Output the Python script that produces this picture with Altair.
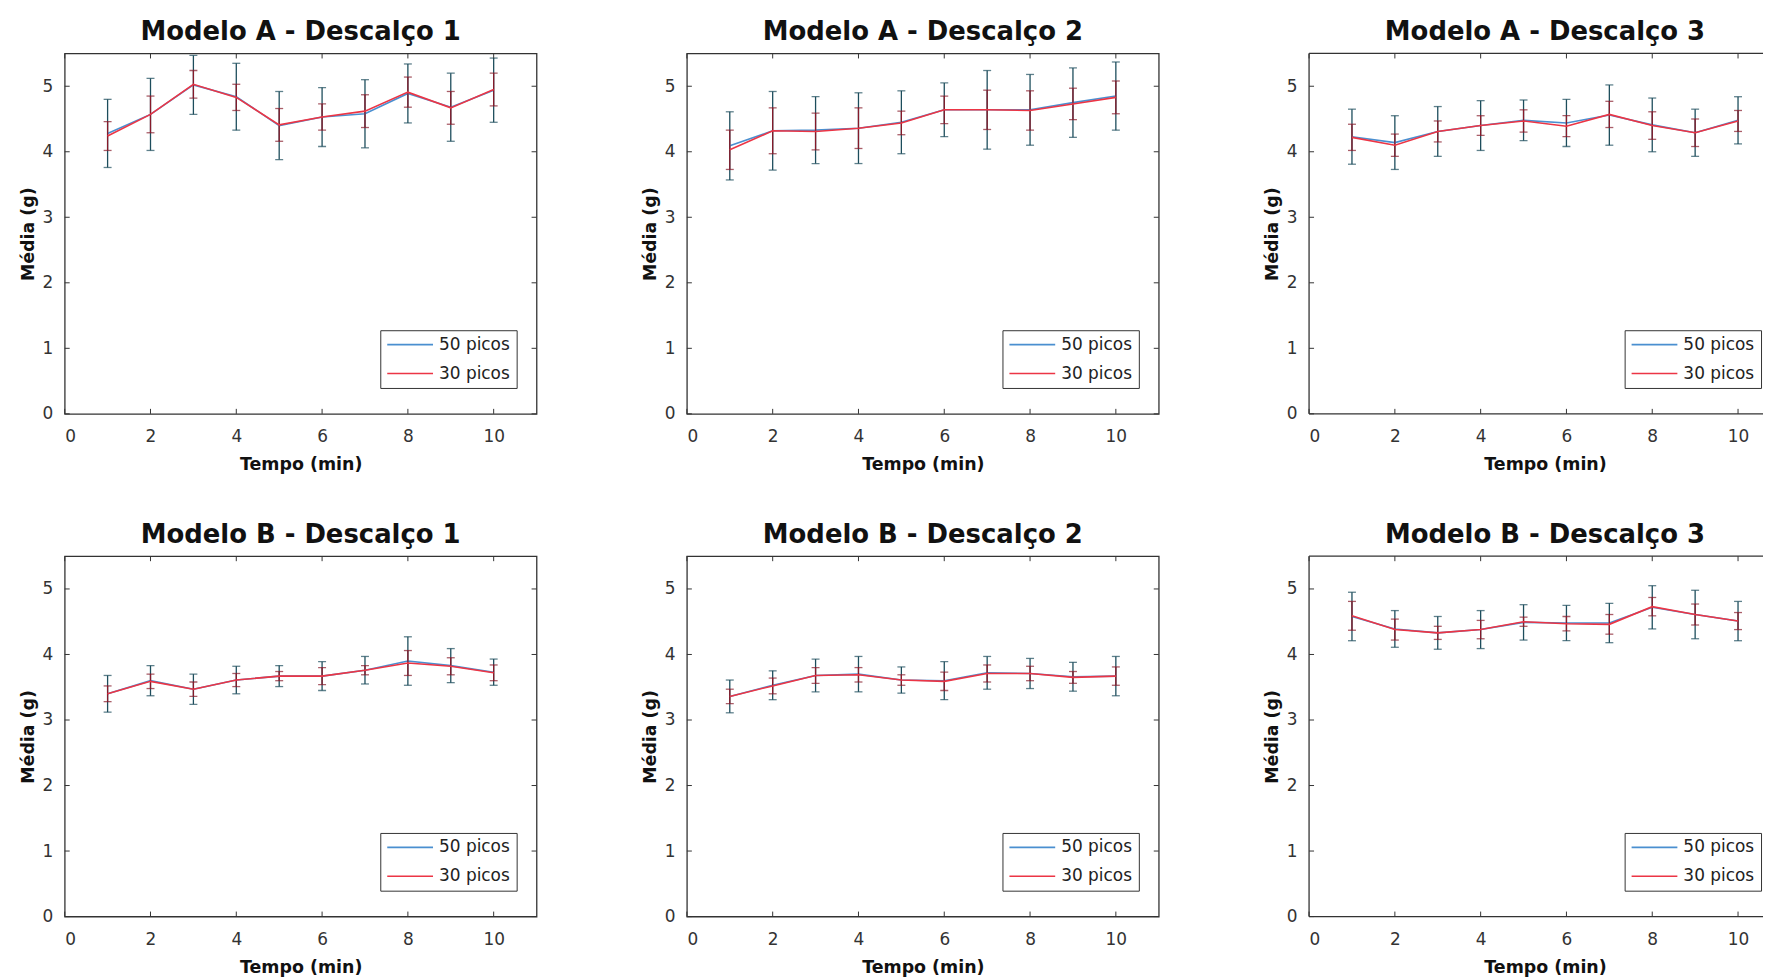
import altair as alt
import pandas as pd

# Tempo (min) and the two peak-count series
TEMPO = [1, 2, 3, 4, 5, 6, 7, 8, 9, 10]
SERIES = ["50 picos", "30 picos"]
X_TICKS = [0, 2, 4, 6, 8, 10]
Y_TICKS = [0, 1, 2, 3, 4, 5]

# Modelo A - Descalço 1
A1_MEAN_50 = [4.28, 4.57, 5.02, 4.84, 4.40, 4.53, 4.58, 4.89, 4.68, 4.94]
A1_ERR_50 = [0.52, 0.55, 0.45, 0.51, 0.52, 0.45, 0.52, 0.45, 0.52, 0.49]
A1_MEAN_30 = [4.24, 4.57, 5.03, 4.83, 4.41, 4.53, 4.62, 4.91, 4.67, 4.95]
A1_ERR_30 = [0.22, 0.28, 0.21, 0.20, 0.25, 0.20, 0.25, 0.23, 0.25, 0.25]

# Modelo A - Descalço 2
A2_MEAN_50 = [4.09, 4.32, 4.33, 4.36, 4.45, 4.64, 4.64, 4.64, 4.75, 4.85]
A2_ERR_50 = [0.52, 0.60, 0.51, 0.54, 0.48, 0.41, 0.60, 0.54, 0.53, 0.52]
A2_MEAN_30 = [4.03, 4.32, 4.31, 4.36, 4.44, 4.64, 4.64, 4.63, 4.73, 4.83]
A2_ERR_30 = [0.30, 0.35, 0.28, 0.31, 0.18, 0.21, 0.30, 0.30, 0.24, 0.25]

# Modelo A - Descalço 3
A3_MEAN_50 = [4.23, 4.14, 4.31, 4.40, 4.48, 4.44, 4.56, 4.41, 4.29, 4.48]
A3_ERR_50 = [0.42, 0.41, 0.38, 0.38, 0.31, 0.36, 0.46, 0.41, 0.36, 0.36]
A3_MEAN_30 = [4.22, 4.10, 4.31, 4.40, 4.47, 4.39, 4.57, 4.40, 4.29, 4.47]
A3_ERR_30 = [0.20, 0.17, 0.16, 0.15, 0.17, 0.16, 0.20, 0.21, 0.21, 0.16]

# Modelo B - Descalço 1
B1_MEAN_50 = [3.40, 3.60, 3.47, 3.61, 3.67, 3.67, 3.76, 3.90, 3.83, 3.73]
B1_ERR_50 = [0.28, 0.23, 0.23, 0.21, 0.16, 0.22, 0.21, 0.37, 0.26, 0.20]
B1_MEAN_30 = [3.40, 3.59, 3.47, 3.61, 3.67, 3.67, 3.76, 3.87, 3.82, 3.72]
B1_ERR_30 = [0.12, 0.11, 0.11, 0.10, 0.07, 0.13, 0.07, 0.19, 0.13, 0.12]

# Modelo B - Descalço 2
B2_MEAN_50 = [3.36, 3.53, 3.68, 3.70, 3.61, 3.60, 3.72, 3.71, 3.66, 3.67]
B2_ERR_50 = [0.25, 0.22, 0.25, 0.27, 0.20, 0.29, 0.25, 0.23, 0.22, 0.30]
B2_MEAN_30 = [3.36, 3.52, 3.68, 3.69, 3.61, 3.59, 3.71, 3.71, 3.65, 3.67]
B2_ERR_30 = [0.11, 0.12, 0.12, 0.11, 0.08, 0.14, 0.13, 0.11, 0.09, 0.14]

# Modelo B - Descalço 3
B3_MEAN_50 = [4.58, 4.39, 4.33, 4.38, 4.49, 4.48, 4.48, 4.72, 4.61, 4.51]
B3_ERR_50 = [0.37, 0.28, 0.25, 0.29, 0.27, 0.27, 0.30, 0.33, 0.37, 0.30]
B3_MEAN_30 = [4.59, 4.38, 4.33, 4.38, 4.50, 4.47, 4.46, 4.73, 4.61, 4.51]
B3_ERR_30 = [0.22, 0.16, 0.10, 0.14, 0.07, 0.11, 0.15, 0.14, 0.16, 0.13]

BLUE = "#4a8fd0"
RED = "#ec3545"
BAR_BLUE = "#1d4d5c"
BAR_RED = "#861a2a"
FRAME = "#333333"
FONT = "DejaVu Sans"

W = 474          # plot width of a full panel
W_LAST = 456     # last column runs off the right edge
H = 362
TICK_LEN = 5

# legend sample: a long horizontal stroke in a compact row
LEGEND_SYMBOL = "M-1,0H5.13"
LEGEND_SYMBOL_SIZE = 225


def series_frame(mean, err, label):
    return pd.DataFrame({
        "tempo": TEMPO,
        "serie": label,
        "media": mean,
        "lo": [m - e for m, e in zip(mean, err)],
        "hi": [m + e for m, e in zip(mean, err)],
    })


def panel(title, m50, e50, m30, e30, last=False):
    width = W_LAST if last else W
    xmax = 11 * width / W
    xs = alt.Scale(domain=[0, xmax], nice=False, zero=False)
    ys = alt.Scale(domain=[0, 5.5], nice=False)
    x_axis = alt.Axis(values=X_TICKS, title="Tempo (min)", format="d",
                      **({"titleX": W / 2} if last else {}))
    y_axis = alt.Axis(values=Y_TICKS, title="Média (g)", format="d")
    x_enc = alt.X("tempo:Q", scale=xs, axis=x_axis)

    color = alt.Color(
        "serie:N",
        sort=SERIES,
        scale=alt.Scale(domain=SERIES, range=[BLUE, RED]),
        legend=alt.Legend(
            title=None, orient="none", legendX=317, legendY=278,
            symbolType=LEGEND_SYMBOL, symbolSize=LEGEND_SYMBOL_SIZE,
            symbolStrokeWidth=1.6,
            labelFont=FONT, labelFontSize=17, labelColor="#222",
            labelOffset=36, rowPadding=11, padding=6,
            strokeColor=FRAME, fillColor="white",
        ),
    )

    layers = []
    for mean, err, label, bar_color in (
        (m50, e50, SERIES[0], BAR_BLUE),
        (m30, e30, SERIES[1], BAR_RED),
    ):
        df = series_frame(mean, err, label)
        base = alt.Chart(df)
        layers.append(base.mark_rule(color=bar_color, strokeWidth=1.3).encode(
            x=x_enc, y=alt.Y("lo:Q", scale=ys, axis=y_axis), y2="hi:Q"))
        for end in ("lo", "hi"):
            layers.append(base.mark_tick(orient="horizontal", size=8, thickness=1.3,
                                         color=bar_color).encode(
                x=x_enc, y=alt.Y(f"{end}:Q", scale=ys, axis=y_axis)))
        layers.append(base.mark_line(strokeWidth=1.6).encode(
            x=x_enc, y=alt.Y("media:Q", scale=ys, axis=y_axis), color=color))

    # inward tick marks on the frame
    xt = alt.Chart(pd.DataFrame({"tempo": X_TICKS}))
    yt = alt.Chart(pd.DataFrame({"media": Y_TICKS}))
    tick_style = dict(color=FRAME, strokeWidth=1)
    layers.append(xt.mark_rule(**tick_style).encode(
        x=x_enc, y=alt.value(H), y2=alt.value(H - TICK_LEN)))
    layers.append(xt.mark_rule(**tick_style).encode(
        x=x_enc, y=alt.value(0), y2=alt.value(TICK_LEN)))
    layers.append(yt.mark_rule(**tick_style).encode(
        y=alt.Y("media:Q", scale=ys, axis=y_axis), x=alt.value(0), x2=alt.value(TICK_LEN)))
    if not last:
        layers.append(yt.mark_rule(**tick_style).encode(
            y=alt.Y("media:Q", scale=ys, axis=y_axis), x=alt.value(width),
            x2=alt.value(width - TICK_LEN)))
    else:
        # open-ended frame: left, top and bottom edges only
        one = alt.Chart(pd.DataFrame({"k": [0]}))
        frame_style = dict(color=FRAME, strokeWidth=1.3)
        layers.append(one.mark_rule(**frame_style).encode(
            x=alt.value(0), y=alt.value(0), y2=alt.value(H)))
        layers.append(one.mark_rule(**frame_style).encode(
            x=alt.value(0), x2=alt.value(width), y=alt.value(0)))
        layers.append(one.mark_rule(**frame_style).encode(
            x=alt.value(0), x2=alt.value(width), y=alt.value(H)))

    props = dict(
        width=width, height=H,
        title=alt.TitleParams(title, **({"dx": (W - width) / 2} if last else {})),
    )
    if last:
        props["view"] = alt.ViewBackground(stroke="transparent")
    return alt.layer(*layers).properties(**props)


def row(*panels):
    return (
        alt.hconcat(*panels, spacing=102)
        .resolve_scale(color="independent")
        .resolve_legend(color="independent")
    )


row_a = row(
    panel("Modelo A - Descalço 1", A1_MEAN_50, A1_ERR_50, A1_MEAN_30, A1_ERR_30),
    panel("Modelo A - Descalço 2", A2_MEAN_50, A2_ERR_50, A2_MEAN_30, A2_ERR_30),
    panel("Modelo A - Descalço 3", A3_MEAN_50, A3_ERR_50, A3_MEAN_30, A3_ERR_30, last=True),
)
row_b = row(
    panel("Modelo B - Descalço 1", B1_MEAN_50, B1_ERR_50, B1_MEAN_30, B1_ERR_30),
    panel("Modelo B - Descalço 2", B2_MEAN_50, B2_ERR_50, B2_MEAN_30, B2_ERR_30),
    panel("Modelo B - Descalço 3", B3_MEAN_50, B3_ERR_50, B3_MEAN_30, B3_ERR_30, last=True),
)

chart = (
    alt.vconcat(row_a, row_b, spacing=46)
    .resolve_scale(color="independent")
    .resolve_legend(color="independent")
    .properties(padding={"left": 18, "top": 15.5, "right": 0, "bottom": 0},
                background="white")
    .configure_view(stroke=FRAME, strokeWidth=1.3)
    .configure_axis(
        grid=False, domain=False, ticks=False,
        labelFont=FONT, labelFontSize=17, labelColor="#333",
        titleFont=FONT, titleFontSize=17.5, titleFontWeight="bold", titleColor="#111",
    )
    .configure_axisX(labelPadding=15, titlePadding=11)
    .configure_axisY(labelPadding=12, titlePadding=5)
    .configure_title(font=FONT, fontSize=26, fontWeight="bold", color="#111",
                     anchor="middle", offset=8)
)

chart.save("out.html", embed_options={"renderer": "svg", "actions": False})
